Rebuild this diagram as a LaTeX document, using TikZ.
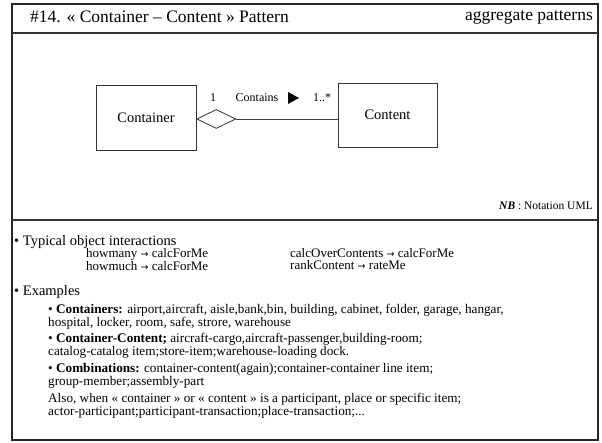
\documentclass[tikz,border=0pt]{standalone}
\usepackage{fontspec}
\setmainfont{Liberation Serif}
\newfontfamily\arrfont{DejaVu Sans}
\newcommand{\ar}{{\arrfont\fontsize{9.5}{10}\selectfont →}}
\usetikzlibrary{shapes.geometric}
\begin{document}
\begin{tikzpicture}[x=1pt,y=-1pt,
  frame/.style={line width=1.3pt, draw=black!85},
  sep/.style={line width=1.1pt, draw=black!80},
  cls/.style={draw=black!80, line width=0.8pt, font=\fontsize{14.5}{16}\selectfont, inner sep=0pt},
  lbl/.style={font=\fontsize{12}{14}\selectfont, inner sep=0pt},
  head/.style={anchor=west, font=\fontsize{14.5}{16}\selectfont, inner sep=0pt},
  sub/.style={anchor=north west, align=left, font=\fontsize{13}{11.6}\selectfont, inner sep=0pt},
  txt/.style={anchor=north west, align=left, font=\fontsize{13.2}{11.3}\selectfont, inner sep=0pt},
  ttl/.style={font=\fontsize{17.5}{20}\selectfont, inner sep=0pt}]
\useasboundingbox (0,0) rectangle (602,443);
% frame
\draw[frame] (12,4) rectangle (598,440);
\draw[sep] (12,33) -- (598,33);
\draw[sep] (12,220) -- (598,220);
% title
\node[ttl, anchor=west] (title) at (30,17) {\#14. « Container – Content » Pattern};
\node[ttl, anchor=east] (cat) at (593,17) {aggregate patterns};
% classes
\node[cls, minimum width=100pt, minimum height=65pt] (ctr) at (146,118) {Container};
\node[cls, minimum width=99pt, minimum height=64pt] (cnt) at (387.5,115) {Content};
\node[diamond, draw=black!80, line width=0.8pt, fill=white, inner sep=0pt, minimum width=39pt, minimum height=19pt, anchor=west] (dia) at (ctr.east |- 0,119) {};
\draw[black!75, line width=0.8pt] (dia.east) -- (cnt.west |- dia.east);
\node[lbl] (m1) at (213,98) {1};
\node[lbl] (rel) at (257,98) {Contains};
\fill[black] (288,92) -- (299,98) -- (288,104) -- cycle;
\node[lbl] (m2) at (322,98) {1..*};
\node[anchor=east, font=\fontsize{11.5}{13}\selectfont, inner sep=0pt] (nb) at (593,206) {\textbf{\textit{NB}} : Notation UML};
% interactions
\node[head] (h1) at (14,242) {• Typical object interactions};
\node[sub] (i1) at (86,248.5) {howmany \ar\ calcForMe\\howmuch \ar\ calcForMe};
\node[sub] (i3) at (290,248.5) {calcOverContents \ar\ calcForMe\\rankContent \ar\ rateMe};
% examples
\node[head] (h2) at (14,292) {• Examples};
\node[txt] (e1) at (48,304) {• \textbf{Containers:} airport,aircraft, aisle,bank,bin, building, cabinet, folder, garage, hangar,\\hospital, locker, room, safe, strore, warehouse};
\node[txt] (e3) at (48,333) {• \textbf{Container-Content;} aircraft-cargo,aircraft-passenger,building-room;\\catalog-catalog item;store-item;warehouse-loading dock.};
\node[txt] (e5) at (48,363) {• \textbf{Combinations:} container-content(again);container-container line item;\\group-member;assembly-part};
\node[txt] (e7) at (48,393) {Also, when « container » or « content » is a participant, place or specific item;\\actor-participant;participant-transaction;place-transaction;...};
\end{tikzpicture}
\end{document}
